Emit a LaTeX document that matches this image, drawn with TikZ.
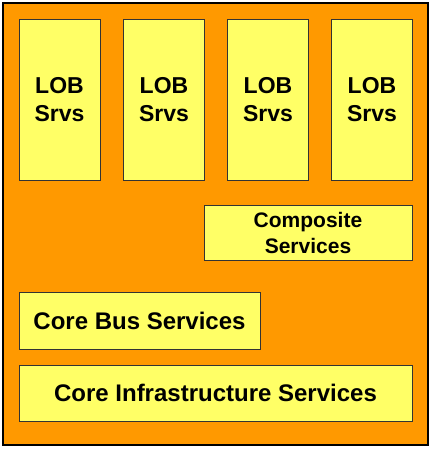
\documentclass[tikz,border=0pt]{standalone}
\usepackage{fontspec}
\setmainfont{Liberation Sans}
\definecolor{bgorange}{RGB}{255,153,0}
\definecolor{boxyellow}{RGB}{255,255,102}
\tikzset{
    srvbox/.style={draw=black!80, line width=1pt, fill=boxyellow, inner sep=0pt, align=center,
        font=\fontsize{24}{28}\selectfont\bfseries},
    lob/.style={srvbox, minimum width=81pt, minimum height=161pt,
        font=\fontsize{23}{28}\selectfont\bfseries}
}
\begin{document}
\begin{tikzpicture}[x=1pt, y=-1pt]
        \useasboundingbox (0, 0) rectangle (433, 450);
        \draw[line width=1.3pt, fill=bgorange](3, 3) rectangle (428, 445);
            % line of business columns
            \node[lob] (lob1) at (59.5, 99.5){LOB\\Srvs};
            \node[lob] (lob2) at (164, 99.5){LOB\\Srvs};
            \node[lob] (lob3) at (268, 99.5){LOB\\Srvs};
            \node[lob] (lob4) at (372, 99.5){LOB\\Srvs};
            % shared layers
            \node[srvbox, minimum width=208pt, minimum height=55pt,
                font=\fontsize{21}{26}\selectfont\bfseries] (comp) at (308, 232.5){Composite\\Services};
            \node[srvbox, minimum width=241pt, minimum height=57pt] (bus) at (139.5, 320.5){Core Bus Services};
            \node[srvbox, minimum width=393pt, minimum height=56pt] (infra) at (215.5, 393){Core Infrastructure Services};
    \end{tikzpicture}
\end{document}
